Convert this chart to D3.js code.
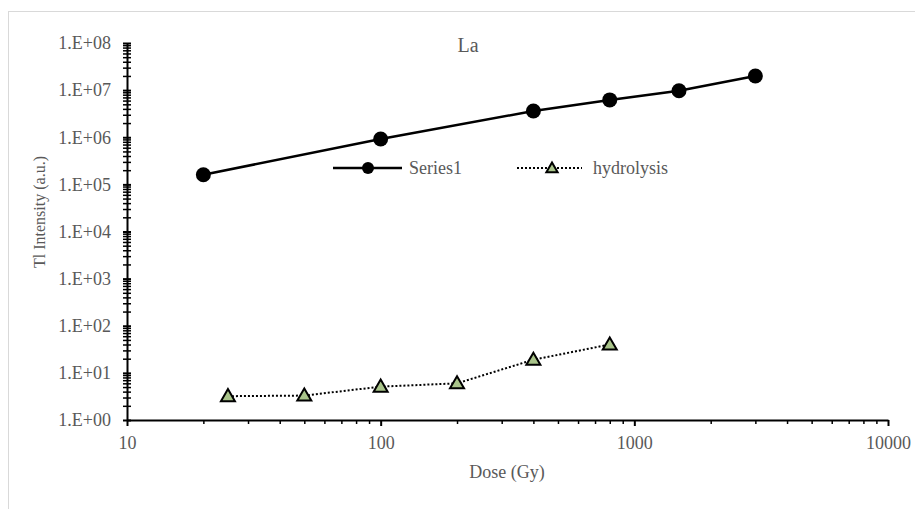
<!DOCTYPE html>
<html>
<head>
<meta charset="utf-8">
<script src="https://cdn.jsdelivr.net/npm/d3@7"></script>
<style>
  body { margin: 0; background: #fff; }
  svg text { font-family: "Liberation Serif", "Times New Roman", serif !important; fill: #595959; }
</style>
</head>
<body>
<div id="chart"></div>
<script>
const FRAME_WIDTH = 915;
const FRAME_HEIGHT = 509;
const PLOT = {left: 127, right: 888, top: 43, bottom: 420};

// data
const series1Dose = [20, 100, 400, 800, 1500, 3000];
const series1Int = [1.6e5, 9.2e5, 3.6e6, 6.2e6, 9.7e6, 2.0e7];
const hydroDose = [25, 50, 100, 200, 400, 800];
const hydroInt = [3.2, 3.3, 5.1, 6.0, 19, 40];
const xTicks = [10, 100, 1000, 10000];
const yTicks = [1, 1e1, 1e2, 1e3, 1e4, 1e5, 1e6, 1e7, 1e8];
const seriesNames = ["Series1", "hydrolysis"];

const svg = d3.select("#chart")
  .append("svg")
    .attr("width", FRAME_WIDTH)
    .attr("height", FRAME_HEIGHT);

// chart area border
svg.append("rect")
  .attr("x", 8.5).attr("y", 11.5)
  .attr("width", 1000).attr("height", 1000)
  .attr("fill", "none")
  .attr("stroke", "#d9d9d9");

const X_SCALE = d3.scaleLog().domain([10, 10000]).range([PLOT.left, PLOT.right]);
const Y_SCALE = d3.scaleLog().domain([1, 1e8]).range([PLOT.bottom, PLOT.top]);

// minor tick values 2..9 per decade
function minors(lo, hi) {
  const out = [];
  for (let p = lo; p < hi; p++) {
    for (let m = 2; m <= 9; m++) out.push(m * Math.pow(10, p));
  }
  return out;
}

// y axis
const yMinor = svg.append("g")
  .attr("transform", "translate(" + PLOT.left + ",0)")
  .call(d3.axisLeft(Y_SCALE).tickValues(minors(0, 8)).tickFormat("").tickSize(4));
yMinor.select(".domain").remove();
yMinor.selectAll(".tick line").attr("x1", 4).attr("x2", -4).attr("stroke-width", 1.5);

const yAxis = svg.append("g")
  .attr("transform", "translate(" + PLOT.left + ",0)")
  .call(d3.axisLeft(Y_SCALE).tickValues(yTicks)
    .tickFormat(d => "1.E+" + String(Math.round(Math.log10(d))).padStart(2, "0"))
    .tickSize(4).tickPadding(12).tickSizeOuter(0));
yAxis.attr("font-family", null);
yAxis.selectAll(".tick line").attr("x1", 4).attr("x2", -4).attr("stroke-width", 2);
yAxis.select(".domain").attr("stroke-width", 2);
yAxis.selectAll("text").attr("font-size", "18px");

// x axis
const xMinor = svg.append("g")
  .attr("transform", "translate(0," + PLOT.bottom + ")")
  .call(d3.axisBottom(X_SCALE).tickValues(minors(1, 4)).tickFormat("").tickSize(4));
xMinor.select(".domain").remove();
xMinor.selectAll(".tick line").attr("stroke-width", 1.5);

const xAxis = svg.append("g")
  .attr("transform", "translate(0," + PLOT.bottom + ")")
  .call(d3.axisBottom(X_SCALE).tickValues(xTicks).tickFormat(d3.format("d"))
    .tickSize(6).tickPadding(10).tickSizeOuter(0));
xAxis.attr("font-family", null);
xAxis.select(".domain").attr("stroke-width", 2);
xAxis.selectAll(".tick line").attr("stroke-width", 2);
xAxis.selectAll("text").attr("font-size", "18px");

// titles
svg.append("text")
  .attr("x", 468).attr("y", 52)
  .attr("text-anchor", "middle")
  .attr("font-size", "20px")
  .text("La");

svg.append("text")
  .attr("x", 507).attr("y", 478)
  .attr("text-anchor", "middle")
  .attr("font-size", "18px")
  .text("Dose (Gy)");

svg.append("text")
  .attr("transform", "translate(45,212) rotate(-90)")
  .attr("text-anchor", "middle")
  .attr("font-size", "16px")
  .text("Tl Intensity (a.u.)");

// series
const s1 = series1Dose.map((d, i) => ({x: d, y: series1Int[i]}));
const hy = hydroDose.map((d, i) => ({x: d, y: hydroInt[i]}));

const line = d3.line().x(d => X_SCALE(d.x)).y(d => Y_SCALE(d.y));

svg.append("path")
  .datum(hy)
  .attr("d", line)
  .attr("fill", "none")
  .attr("stroke", "#000")
  .attr("stroke-width", 2)
  .attr("stroke-dasharray", "2,2");

svg.append("path")
  .datum(s1)
  .attr("d", line)
  .attr("fill", "none")
  .attr("stroke", "#000")
  .attr("stroke-width", 2.5);

svg.selectAll(".pt1")
  .data(s1)
  .enter()
  .append("circle")
    .attr("class", "pt1")
    .attr("cx", d => X_SCALE(d.x))
    .attr("cy", d => Y_SCALE(d.y))
    .attr("r", 7.5)
    .attr("fill", "#000");

const tri = d3.symbol(d3.symbolTriangle, 85);
svg.selectAll(".pt2")
  .data(hy)
  .enter()
  .append("path")
    .attr("class", "pt2")
    .attr("d", tri)
    .attr("transform", d => "translate(" + X_SCALE(d.x) + "," + (Y_SCALE(d.y) + 1) + ")")
    .attr("fill", "#a9c48a")
    .attr("stroke", "#000")
    .attr("stroke-width", 2);

// legend
const legY = 168;
svg.append("line")
  .attr("x1", 333).attr("x2", 402).attr("y1", legY).attr("y2", legY)
  .attr("stroke", "#000").attr("stroke-width", 2.5);
svg.append("circle")
  .attr("cx", 368).attr("cy", legY).attr("r", 6).attr("fill", "#000");
svg.append("text")
  .attr("x", 409).attr("y", legY + 6)
  .attr("font-size", "18px")
  .text(seriesNames[0]);

svg.append("line")
  .attr("x1", 517).attr("x2", 582).attr("y1", legY).attr("y2", legY)
  .attr("stroke", "#000").attr("stroke-width", 2).attr("stroke-dasharray", "2,2");
svg.append("path")
  .attr("d", d3.symbol(d3.symbolTriangle, 55))
  .attr("transform", "translate(552," + (legY + 1) + ")")
  .attr("fill", "#a9c48a").attr("stroke", "#000").attr("stroke-width", 2);
svg.append("text")
  .attr("x", 593).attr("y", legY + 6)
  .attr("font-size", "18px")
  .text(seriesNames[1]);
</script>
</body>
</html>
